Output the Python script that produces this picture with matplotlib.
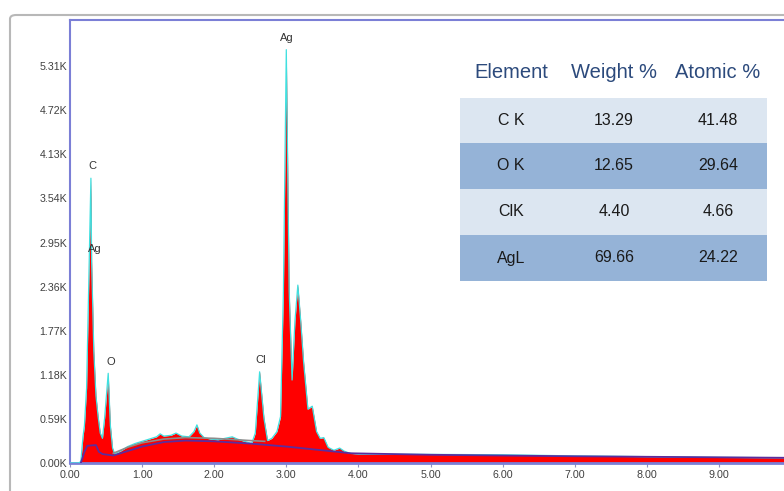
import numpy as np
import matplotlib
matplotlib.use('Agg')
import matplotlib.pyplot as plt
from matplotlib.patches import Rectangle, FancyBboxPatch
from matplotlib.ticker import FuncFormatter

''' EDS spectrum with element quantification table '''

# spectrum (keV, counts)
energy = [0.00, 0.12, 0.15, 0.18, 0.20, 0.23, 0.26, 0.29, 0.30, 0.33, 0.36, 0.39, 0.42, 0.45,
          0.48, 0.53, 0.56, 0.59, 0.62, 0.66, 0.72, 0.80, 0.90, 1.00, 1.10, 1.20, 1.25, 1.30,
          1.40, 1.47, 1.55, 1.65, 1.72, 1.76, 1.80, 1.86, 1.95, 2.05, 2.15, 2.25, 2.32, 2.42,
          2.52, 2.57, 2.63, 2.69, 2.74, 2.80, 2.87, 2.92, 2.96, 3.00, 3.04, 3.08, 3.12, 3.16,
          3.20, 3.24, 3.30, 3.36, 3.42, 3.47, 3.52, 3.58, 3.66, 3.74, 3.80, 3.88, 4.00, 5.00,
          6.00, 7.00, 8.00, 9.00, 9.90]
counts = [0, 0, 20, 350, 500, 1000, 2400, 3810, 2700, 1500, 900, 620, 400, 330,
          600, 1200, 500, 200, 120, 140, 170, 220, 260, 290, 320, 350, 390, 360,
          370, 400, 360, 350, 420, 510, 400, 340, 320, 310, 330, 350, 320, 290,
          260, 400, 1220, 600, 300, 330, 420, 620, 2300, 5530, 2300, 1110, 1900, 2380,
          1900, 1350, 720, 760, 420, 330, 340, 210, 170, 200, 160, 130, 120, 115,
          110, 95, 85, 75, 70]

# background estimate (purple) and fit line (grey)
bg_energy = [0.15, 0.20, 0.24, 0.36, 0.40, 0.45, 0.60, 0.80, 1.00, 1.30, 1.60, 2.00, 2.50,
             3.00, 3.50, 3.90, 5.00, 7.00, 9.90]
bg_counts = [0, 150, 230, 240, 150, 120, 100, 160, 220, 280, 300, 290, 260,
             220, 170, 130, 110, 90, 70]
fit_energy = [0.60, 0.80, 1.00, 1.30, 1.60, 2.00, 2.50, 2.70]
fit_counts = [130, 210, 270, 320, 340, 330, 300, 290]

# peak labels
peak_names = ['Ag', 'C', 'Ag', 'O', 'Cl']
peak_x = [3.00, 0.31, 0.34, 0.57, 2.65]
peak_y = [5530, 3810, 2700, 1200, 1220]

# quantification table
elements = ['C K', 'O K', 'ClK', 'AgL']
weight_pct = ['13.29', '12.65', '4.40', '69.66']
atomic_pct = ['41.48', '29.64', '4.66', '24.22']
headers = ['Element', 'Weight %', 'Atomic %']

W, H = 784, 491
fig = plt.figure(figsize=(W / 100, H / 100), dpi=100)
font = ['Liberation Sans', 'DejaVu Sans']

def px(x, y):
    return x / W, 1 - y / H

# outer grey frame
frame = FancyBboxPatch(px(10, 560), (800 - 10) / W, (560 - 15) / H,
                       boxstyle='round,pad=0,rounding_size=0.008',
                       transform=fig.transFigure, fill=False, ec='#b8b8b8', lw=1.5)
fig.patches.append(frame)

x0, y0 = px(70, 463)
x1, y1 = px(800, 20)
ax = fig.add_axes([x0, y0, x1 - x0, y1 - y0])

ax.fill_between(energy, counts, 0, color='#ff0000', lw=0, zorder=2)
ax.plot(energy, counts, color='#40e0e0', lw=0.9, zorder=3)
ax.plot(fit_energy, fit_counts, color='#8c8c8c', lw=1.2, zorder=4)
ax.plot(bg_energy, bg_counts, color='#5b2d9e', lw=1.3, zorder=4)

for name, xx, yy in zip(peak_names, peak_x, peak_y):
    ax.text(xx, yy + 90, name, ha='center', va='bottom', fontsize=8, color='#333333',
            family=font)

ax.set_xlim(0, (800 - 70) / 72.1)
ax.set_ylim(0, 443 / 44.1 * 590)
ax.set_xticks(np.arange(0, 10, 1))
ax.set_yticks(np.arange(0, 5311, 590))
ax.xaxis.set_major_formatter(FuncFormatter(lambda v, p: '%.2f' % v))
ax.yaxis.set_major_formatter(FuncFormatter(lambda v, p: '%.2fK' % (v / 1000)))
ax.tick_params(axis='x', length=3, width=0.8, color='#9090c0', pad=2, labelsize=7.7,
               labelcolor='#404040')
ax.tick_params(axis='y', length=0, pad=2, labelsize=7.7, labelcolor='#404040')
for lab in ax.get_xticklabels() + ax.get_yticklabels():
    lab.set_family(font)

for s in ['left', 'top']:
    ax.spines[s].set_color('#7b7fd6')
    ax.spines[s].set_linewidth(1.5)
ax.spines['bottom'].set_color('#7b7fd6')
ax.spines['bottom'].set_linewidth(2)
ax.spines['right'].set_visible(False)

# table
col_x = [511, 614, 718]
row_edges = [98, 143, 189, 235, 281]
row_cols = ['#dce6f1', '#95b3d7', '#dce6f1', '#95b3d7']
for i in range(4):
    bx, by = px(460, row_edges[i + 1])
    fig.patches.append(Rectangle((bx, by), (767 - 460) / W,
                                 (row_edges[i + 1] - row_edges[i]) / H,
                                 transform=fig.transFigure, color=row_cols[i], lw=0))
for j, hd in enumerate(headers):
    tx, ty = px(col_x[j], 72)
    fig.text(tx, ty, hd, ha='center', va='center', fontsize=14.5, color='#2c4a7c',
             family=font)
for i in range(4):
    ty = (row_edges[i] + row_edges[i + 1]) / 2
    for j, val in enumerate([elements[i], weight_pct[i], atomic_pct[i]]):
        tx, tyy = px(col_x[j], ty)
        fig.text(tx, tyy, val, ha='center', va='center', fontsize=11.5, color='#1a1a1a',
                 family=font)

fig.savefig('out.png', dpi=100)
